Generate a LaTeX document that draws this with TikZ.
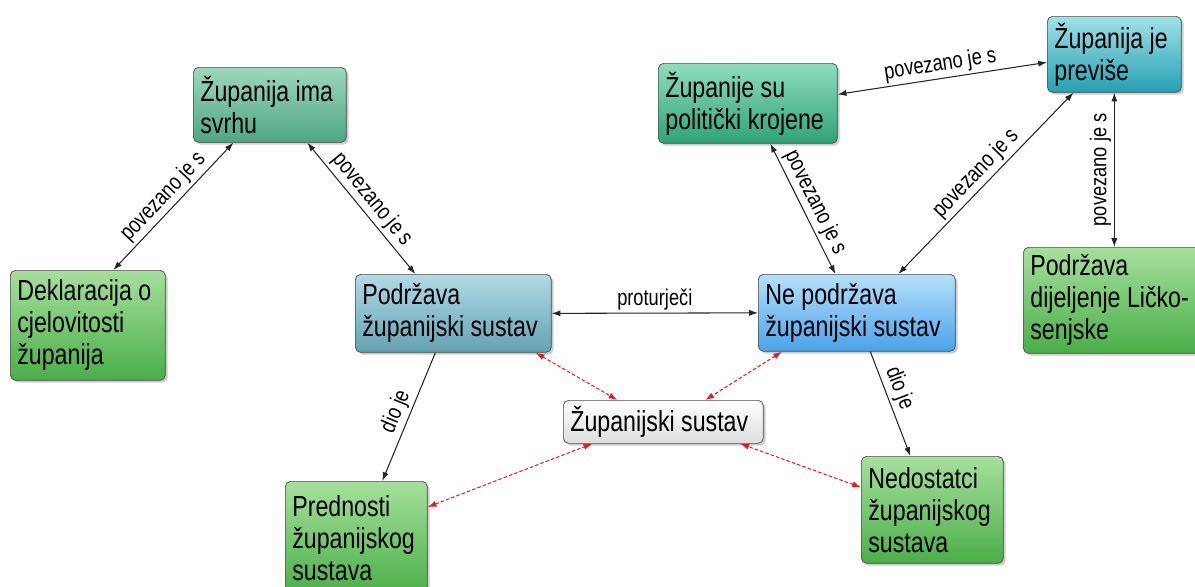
\documentclass[tikz,border=0pt]{standalone}
\usepackage{fontspec}
\setmainfont{Liberation Sans}[FakeStretch=0.8]
\usetikzlibrary{shadows,arrows.meta}
\definecolor{mapgreentop}{HTML}{A6E09C}
\definecolor{mapgreenbot}{HTML}{4AAE48}
\definecolor{mapseatop}{HTML}{9CD8BC}
\definecolor{mapseabot}{HTML}{4EA684}
\definecolor{mapjadetop}{HTML}{8EDDBE}
\definecolor{mapjadebot}{HTML}{2FA377}
\definecolor{mapgreytop}{HTML}{B2DAE5}
\definecolor{mapgreybot}{HTML}{62A2B3}
\definecolor{mapskytop}{HTML}{B6E0FA}
\definecolor{mapskybot}{HTML}{4AA2EA}
\definecolor{mapcyantop}{HTML}{A0E2E8}
\definecolor{mapcyanbot}{HTML}{25A0B2}
\definecolor{mapred}{HTML}{E02020}

\begin{document}
\begin{tikzpicture}[x=0.02cm,y=-0.02cm,
        box/.style={rectangle,draw=black!70,rounded corners=3pt,anchor=north west,
                    font=\fontsize{16.5}{18.2}\selectfont,align=flush left,
                    inner xsep=0.14cm,inner ysep=0pt,
                    drop shadow={shadow xshift=1.3pt,shadow yshift=-1.3pt,opacity=0.4}},
        green/.style={top color=mapgreentop,bottom color=mapgreenbot},
        sea/.style={top color=mapseatop,bottom color=mapseabot},
        jade/.style={top color=mapjadetop,bottom color=mapjadebot},
        greyblue/.style={top color=mapgreytop,bottom color=mapgreybot},
        sky/.style={top color=mapskytop,bottom color=mapskybot},
        cyan/.style={top color=mapcyantop,bottom color=mapcyanbot},
        plain/.style={top color=white,bottom color=black!13},
        lbl/.style={font=\fontsize{13}{15}\selectfont,sloped,above,inner sep=1.5pt},
        link/.style={draw=black!85,line width=0.6pt,
                     {Latex[length=5pt,width=3.5pt]}-{Latex[length=5pt,width=3.5pt]}},
        part/.style={draw=black!85,line width=0.6pt,-{Latex[length=5pt,width=3.5pt]}},
        redlink/.style={draw=mapred,line width=0.6pt,dash pattern=on 2pt off 1.2pt,
                        {Latex[length=5pt,width=3.5pt]}-{Latex[length=5pt,width=3.5pt]}}]
  \useasboundingbox (0,0) rectangle (1195,586);
  % concepts
  \node[box,sea,text width=2.78cm,minimum height=1.5cm](svrhu) at(193,67){Županija ima\\svrhu};
  \node[box,green,text width=2.82cm,minimum height=2.2cm](dekl) at(10,270){Deklaracija o\\cjelovitosti\\županija};
  \node[box,greyblue,text width=3.64cm,minimum height=1.56cm](podr) at(355,274){Podržava\\županijski sustav};
  \node[box,sky,text width=3.66cm,minimum height=1.54cm](nepodr) at(758,274){Ne podržava\\županijski sustav};
  \node[box,jade,text width=3.30cm,minimum height=1.6cm](polit) at(658,63){Županije su\\politički krojene};
  \node[box,cyan,text width=2.40cm,minimum height=1.52cm](previse) at(1047,16){Županija je\\previše};
  \node[box,green,text width=3.36cm,minimum height=2.12cm](licko) at(1023,247){Podržava\\dijeljenje Ličko-\\senjske};
  \node[box,plain,text width=3.72cm,minimum height=0.86cm](sustav) at(563,400){Županijski sustav};
  \node[box,green,text width=2.56cm,minimum height=2.28cm](predn) at(285,481){Prednosti\\županijskog\\sustava};
  \node[box,green,text width=2.56cm,minimum height=2.14cm](nedost) at(861,456){Nedostatci\\županijskog\\sustava};
  % links
  \draw[link]([xshift=-0.73cm]svrhu.south) -- node[lbl]{povezano je s} ([xshift=0.51cm]dekl.north);
  \draw[link]([xshift=0.75cm]svrhu.south) -- node[lbl]{povezano je s} ([xshift=-0.76cm]podr.north);
  \draw[link](podr.east) -- node[lbl]{proturječi} (nepodr.west);
  \draw[part]([xshift=-0.36cm]podr.south) -- node[lbl]{dio je} ([xshift=0.52cm]predn.north);
  \draw[part]([xshift=0.27cm]nepodr.south) -- node[lbl,pos=0.4]{dio je} ([xshift=-0.44cm]nedost.north);
  \draw[link]([xshift=0.45cm]polit.south) -- node[lbl]{povezano je s} ([xshift=-0.43cm]nepodr.north);
  \draw[link]([xshift=-0.82cm]previse.south) -- node[lbl]{povezano je s} ([xshift=0.83cm]nepodr.north);
  \draw[link]([yshift=-0.16cm]previse.west) -- node[lbl]{povezano je s} ([yshift=0.18cm]polit.east);
  \draw[link](previse.south |- licko.north) -- node[lbl]{povezano je s} (previse.south);
  % red links to the system
  \draw[redlink]([xshift=-0.32cm]podr.south east) -- ([xshift=-0.92cm]sustav.north);
  \draw[redlink]([xshift=0.48cm]nepodr.south west) -- ([xshift=0.84cm]sustav.north);
  \draw[redlink]([yshift=-0.52cm]predn.north east) -- ([xshift=-1.42cm]sustav.south);
  \draw[redlink]([yshift=0.45cm]nedost.west) -- ([xshift=1.54cm]sustav.south);
\end{tikzpicture}
\end{document}
